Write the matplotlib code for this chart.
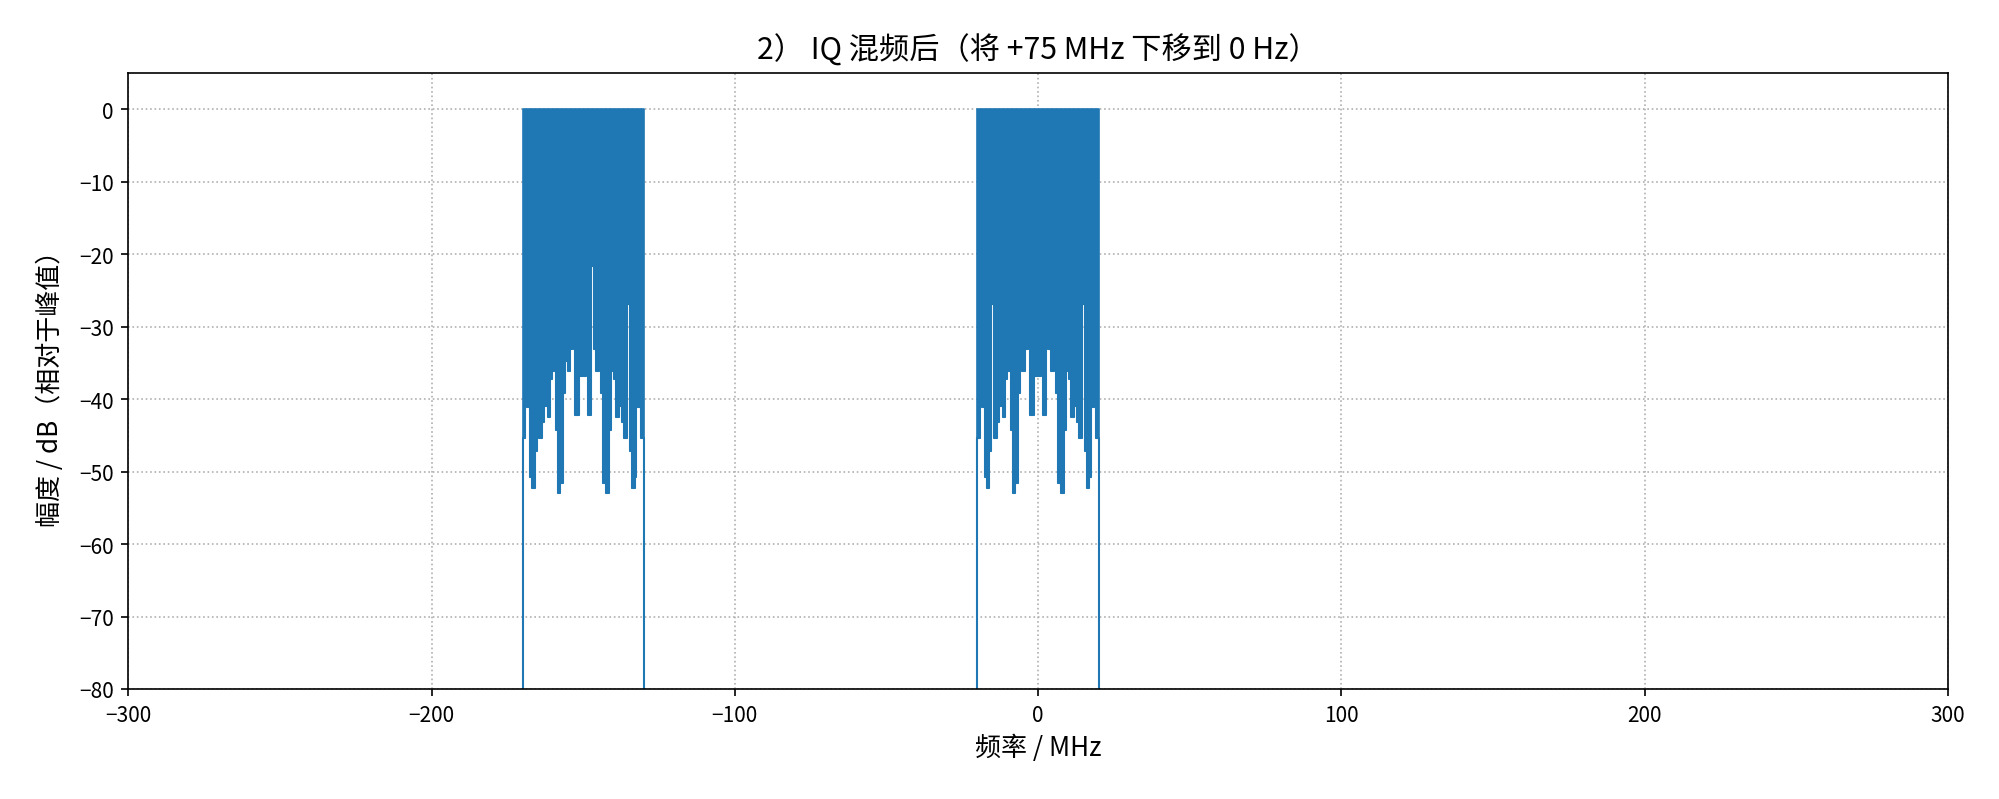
"""
IQ mixing spectrum: band profile after shifting +75 MHz down to 0 Hz.
Writes out.png.
"""

import matplotlib

matplotlib.use("Agg")
import matplotlib.pyplot as plt  # noqa: E402

plt.rcParams["font.family"] = ["Noto Sans CJK SC", "DejaVu Sans"]

# lower edge of each occupied band (MHz) and band width
BAND_LO = [-170.0, -20.0]
BAND_W = 40.0

# lower envelope of the spectrum inside a band:
# segment start (MHz from the band's lower edge) and its lowest level (dB)
SEG_START = [0.00, 0.87, 1.42, 2.51, 3.06, 3.93, 4.59, 5.25, 5.57, 6.45,
             7.21, 7.54, 8.31, 9.07, 9.73, 9.95, 10.93, 11.58, 12.46, 13.33,
             13.99, 14.21, 14.86, 15.74, 16.61, 17.30, 18.50, 19.00, 19.85,
             20.15, 21.00, 21.50, 22.70, 23.39, 24.26, 25.14, 25.79, 26.01,
             26.67, 27.54, 28.42, 29.07, 30.05, 30.27, 30.93, 31.69, 32.46,
             32.79, 33.55, 34.43, 34.75, 35.41, 36.07, 36.94, 37.49, 38.58,
             39.13]
SEG_DB = [-45.3, -30.0, -41.1, -50.8, -52.3, -47.2, -26.9, -24.3, -45.3,
          -43.2, -31.1, -40.9, -42.5, -37.2, -32.2, -36.1, -44.3, -52.9,
          -51.6, -39.1, -30.6, -34.7, -36.1, -33.1, -21.6, -42.2, -25.8,
          -36.8, -31.5, -36.8, -25.8, -42.2, -21.6, -33.1, -36.1, -34.7,
          -30.6, -39.1, -51.6, -52.9, -44.3, -36.1, -32.2, -37.2, -42.5,
          -40.9, -31.1, -43.2, -45.3, -24.3, -26.9, -47.2, -52.3, -50.8,
          -41.1, -30.0, -45.3]
PEAK_DB = 0.0
OUT_DB = -200.0      # level outside the bands (below the plot)

XTICKS = [-300, -200, -100, 0, 100, 200, 300]
YTICKS = [0, -10, -20, -30, -40, -50, -60, -70, -80]

C = "#1f77b4"


def main():
    fig, ax = plt.subplots(figsize=(13.333, 5.333), dpi=150)
    fig.subplots_adjust(left=0.0642, right=0.9739, top=0.9075, bottom=0.1375)

    for lo in BAND_LO:
        hi = lo + BAND_W
        xs = [lo + s for s in SEG_START] + [hi]
        ys = SEG_DB + [SEG_DB[-1]]
        ax.fill_between(xs, ys, PEAK_DB, step="post", facecolor=C,
                        edgecolor=C, lw=0.8, zorder=2)
        # band edges fall away to the noise floor
        ax.plot([lo, lo] + xs[1:] + [hi], [OUT_DB] + ys + [OUT_DB],
                drawstyle="steps-post", color=C, lw=1.0, zorder=2)

    ax.set_xlim(-300, 300)
    ax.set_ylim(-80, 5)
    ax.set_xticks(XTICKS)
    ax.set_yticks(YTICKS)
    ax.tick_params(labelsize=10)
    ax.set_axisbelow(True)
    ax.grid(True, ls=":", lw=0.8, color="#b0b0b0")
    ax.set_title("2） IQ 混频后（将 +75 MHz 下移到 0 Hz）", fontsize=14.5,
                 pad=7)
    ax.set_xlabel("频率 / MHz", fontsize=12.5, labelpad=4)
    ax.set_ylabel("幅度 / dB（相对于峰值）", fontsize=12.5, labelpad=7)

    fig.savefig("out.png", dpi=150)


if __name__ == "__main__":
    main()
